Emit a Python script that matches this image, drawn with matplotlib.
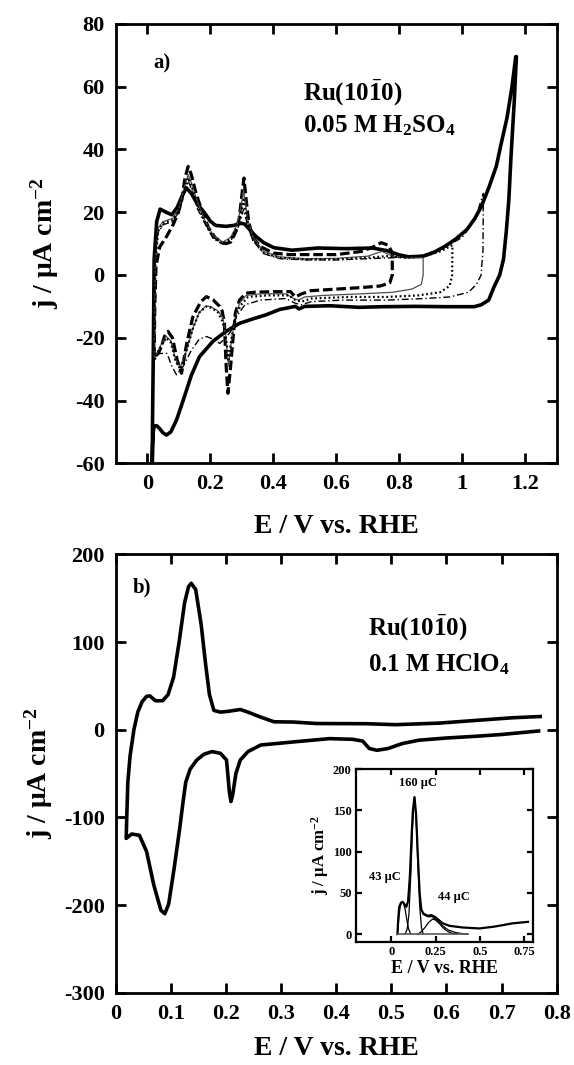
import matplotlib
matplotlib.use('Agg')
import matplotlib.pyplot as plt

# --- panel a) Ru(10-10) in 0.05 M H2SO4, five upper potential limits ---
# thick solid, upper limit 1.17 V
A_E_up = [0.016, 0.017, 0.019, 0.022, 0.030, 0.041, 0.060, 0.078, 0.095, 0.110, 0.124, 0.140, 0.160, 0.182, 0.200,
          0.217, 0.250, 0.275, 0.290, 0.298, 0.310, 0.325, 0.344, 0.370, 0.402, 0.460, 0.541, 0.633, 0.714, 0.760,
          0.800, 0.830, 0.876, 0.910, 0.946, 0.980, 1.015, 1.040, 1.061, 1.085, 1.108, 1.124, 1.142, 1.158, 1.170]
A_j_up = [-60, -45, -28, 5, 17, 21, 20, 19.2, 21.5, 25, 27.8, 26, 22.5, 19.8, 17.2,
          15.8, 15.5, 15.8, 16.3, 16.5, 16.2, 14.5, 12.4, 10.3, 8.7, 7.9, 8.6, 8.4, 8.6, 7.8,
          6.4, 5.8, 6.0, 7.2, 9.2, 11.5, 14.5, 18.0, 21.9, 28.0, 34.6, 42.0, 50.0, 60.0, 69.6]
A_E_down = [1.172, 1.165, 1.155, 1.148, 1.140, 1.131, 1.119, 1.100, 1.084, 1.060, 1.038, 0.950, 0.850, 0.750,
            0.672, 0.580, 0.500, 0.482, 0.470, 0.420, 0.377, 0.335, 0.293, 0.250, 0.210, 0.166, 0.140, 0.114,
            0.093, 0.075, 0.061, 0.050, 0.040, 0.030, 0.022, 0.019, 0.017, 0.016]
A_j_down = [69.6, 55, 38, 24, 14, 5, 0, -4, -8, -9.5, -10.1, -10.1, -10.0, -10.1,
            -10.3, -9.8, -10.0, -10.8, -10.0, -11.0, -12.7, -14.0, -15.4, -18.0, -21.0, -26.0, -32.0, -40.0,
            -46.2, -50.0, -51.0, -50.3, -49.0, -48.0, -48.2, -50.0, -55.0, -60.0]

# thick dashed, upper limit 0.78 V
B_E_up = [0.022, 0.024, 0.028, 0.040, 0.061, 0.082, 0.098, 0.110, 0.120, 0.130, 0.140, 0.155, 0.175, 0.195, 0.215,
          0.235, 0.250, 0.265, 0.280, 0.292, 0.300, 0.307, 0.314, 0.322, 0.335, 0.360, 0.400, 0.450, 0.520, 0.600,
          0.680, 0.714, 0.743, 0.765, 0.778]
B_j_up = [-26, -10, 3, 9, 12.2, 16, 19.7, 24, 31, 34.6, 32, 26, 20, 15, 12,
          10.5, 10, 10.5, 13.5, 18, 25, 30.9, 24, 17, 12, 9, 7, 6.5, 6.5, 6.5,
          7.5, 8.8, 10.3, 9.5, 7.1]
B_E_down = [0.778, 0.778, 0.770, 0.740, 0.680, 0.600, 0.520, 0.490, 0.470, 0.455, 0.400, 0.340, 0.314, 0.293,
            0.280, 0.272, 0.264, 0.256, 0.250, 0.245, 0.238, 0.230, 0.210, 0.188, 0.170, 0.145, 0.125, 0.109,
            0.095, 0.080, 0.066, 0.055, 0.045, 0.035, 0.024, 0.022]
B_j_down = [7.1, 0.0, -2.5, -3.5, -4.0, -4.5, -5.0, -6.0, -7.0, -5.3, -5.3, -5.5, -5.8, -8.0,
            -12.0, -20.7, -30.0, -37.7, -28.0, -15.4, -11.5, -10.0, -8.0, -6.9, -8.5, -13.3, -22.0, -31.3,
            -27.0, -20.0, -18.0, -19.5, -22.8, -25.0, -26.0, -26.0]

# thin solid, upper limit 0.88 V
C_E_up = [0.022, 0.026, 0.035, 0.050, 0.080, 0.100, 0.118, 0.130, 0.142, 0.160, 0.185, 0.210, 0.240, 0.265,
          0.285, 0.298, 0.306, 0.318, 0.335, 0.370, 0.420, 0.500, 0.600, 0.700, 0.745, 0.780, 0.820, 0.876]
C_j_up = [-27, 5, 15, 17, 18, 21, 28, 32, 29, 23, 17, 12.5, 10.5, 12,
          16, 22, 27, 18, 12, 7.5, 5.8, 5.2, 5.3, 6.0, 7.5, 6.0, 5.5, 5.5]
C_E_down = [0.876, 0.876, 0.870, 0.840, 0.780, 0.680, 0.560, 0.500, 0.480, 0.465, 0.440, 0.360, 0.314, 0.293,
            0.278, 0.266, 0.258, 0.250, 0.240, 0.225, 0.200, 0.185, 0.165, 0.145, 0.125, 0.105, 0.090, 0.075,
            0.060, 0.045, 0.030, 0.022]
C_j_down = [5.5, 0.0, -3.0, -4.5, -5.5, -6.0, -6.5, -7.0, -8.0, -7.5, -6.0, -6.0, -6.5, -9.0,
            -14.0, -22.0, -29.0, -20.0, -13.5, -11.5, -10.0, -10.0, -12.0, -17.0, -24.0, -29.5, -27.0, -21.0,
            -19.5, -22.0, -25.0, -27.0]

# dotted, upper limit 0.97 V
D_E_up = [0.022, 0.026, 0.035, 0.050, 0.080, 0.100, 0.118, 0.130, 0.142, 0.160, 0.185, 0.210, 0.240, 0.265,
          0.285, 0.298, 0.306, 0.318, 0.335, 0.370, 0.420, 0.500, 0.600, 0.700, 0.760, 0.820, 0.880, 0.930, 0.969]
D_j_up = [-27, 4, 14, 16.5, 17.5, 20.5, 27, 31, 28, 22, 16.5, 12, 10, 11.5,
          15, 20, 24, 17, 11.5, 7.0, 5.5, 5.0, 5.0, 5.5, 6.0, 5.5, 6.0, 7.5, 9.5]
D_E_down = [0.969, 0.968, 0.960, 0.930, 0.860, 0.760, 0.640, 0.520, 0.490, 0.470, 0.450, 0.380, 0.320, 0.298,
            0.280, 0.268, 0.258, 0.250, 0.240, 0.225, 0.205, 0.188, 0.165, 0.145, 0.125, 0.105, 0.090, 0.075,
            0.060, 0.045, 0.030, 0.022]
D_j_down = [9.5, 0.0, -3.5, -5.5, -6.5, -7.0, -7.0, -7.5, -8.5, -8.0, -6.5, -6.5, -7.0, -9.5,
            -13.0, -20.0, -27.0, -20.0, -15.0, -12.0, -10.5, -10.0, -12.0, -17.0, -24.0, -30.0, -27.5, -21.5,
            -20.0, -22.5, -25.5, -27.0]

# thin dash-dot, upper limit 1.07 V
E_E_up = [0.020, 0.024, 0.032, 0.050, 0.080, 0.100, 0.118, 0.130, 0.142, 0.160, 0.185, 0.210, 0.240, 0.265, 0.285,
          0.298, 0.306, 0.318, 0.335, 0.370, 0.420, 0.500, 0.600, 0.700, 0.780, 0.860, 0.940, 1.000, 1.040, 1.067]
E_j_up = [-28, 3, 13, 16, 17, 20, 26, 30, 27, 21, 16, 11.5, 9.8, 11, 14,
          18, 21, 16, 11, 6.8, 5.2, 4.8, 4.8, 5.2, 5.5, 6.0, 8.5, 12.0, 17.5, 26.0]
E_E_down = [1.067, 1.066, 1.060, 1.045, 1.020, 0.960, 0.880, 0.760, 0.620, 0.520, 0.490, 0.470, 0.440, 0.360, 0.310,
            0.285, 0.265, 0.245, 0.230, 0.210, 0.188, 0.165, 0.140, 0.115, 0.093, 0.078, 0.063, 0.050, 0.035, 0.020]
E_j_down = [26.0, 8.0, 0.0, -3.0, -5.5, -7.0, -7.5, -8.0, -8.0, -8.5, -9.5, -9.0, -7.5, -8.0, -9.5,
            -13.0, -18.0, -20.5, -21.8, -20.5, -19.6, -20.5, -24.0, -29.0, -31.8, -29.0, -25.0, -25.0, -25.0, -28.0]

# --- panel b) Ru(10-10) in 0.1 M HClO4 ---
b_E_up = [0.019, 0.020, 0.022, 0.026, 0.033, 0.040, 0.048, 0.056, 0.062, 0.072, 0.085, 0.095, 0.105, 0.115, 0.125,
          0.132, 0.137, 0.145, 0.155, 0.163, 0.170, 0.178, 0.190, 0.205, 0.226, 0.240, 0.260, 0.287, 0.322, 0.365,
          0.454, 0.508, 0.587, 0.654, 0.720, 0.770]
b_j_up = [-124, -100, -60, -30, 0, 20, 32, 38, 38.5, 33, 33, 40, 60, 100, 145,
          163, 167, 160, 120, 75, 40, 22, 20, 21, 23, 20, 15, 9, 8.7, 7,
          6.8, 5.7, 7.5, 10.6, 13.6, 15]
b_E_down = [0.767, 0.700, 0.654, 0.600, 0.550, 0.520, 0.494, 0.474, 0.460, 0.448, 0.430, 0.388, 0.322, 0.263,
            0.240, 0.226, 0.218, 0.212, 0.209, 0.206, 0.201, 0.190, 0.175, 0.160, 0.147, 0.135, 0.127, 0.122,
            0.116, 0.106, 0.096, 0.089, 0.082, 0.069, 0.056, 0.043, 0.029, 0.019]
b_j_down = [-1.5, -5.5, -7.5, -9.5, -12.0, -15.8, -21.5, -23.5, -21.5, -13.0, -11.0, -10.2, -14.0, -17.5,
            -25.0, -34.6, -50.0, -75.0, -82.0, -70.0, -34.6, -27.0, -25.0, -28.0, -34.6, -45.0, -60.0, -83.0,
            -113.0, -158.0, -199.0, -210.0, -206.0, -177.0, -139.0, -120.5, -119.0, -124.0]

# inset: anodic scan with deconvoluted peaks
ins_E = [0.035, 0.040, 0.045, 0.055, 0.065, 0.075, 0.085, 0.095, 0.105, 0.115, 0.122, 0.131, 0.140, 0.150,
         0.160, 0.169, 0.180, 0.206, 0.225, 0.245, 0.262, 0.290, 0.328, 0.400, 0.497, 0.580, 0.684, 0.770]
ins_j = [0, 20, 33, 38, 39, 36, 33, 40, 70, 120, 150, 166, 145, 95,
         50, 30, 25, 22, 23, 21, 18, 13, 10, 8, 6.8, 9, 13, 14.8]
pk1_E = [0.035, 0.042, 0.050, 0.060, 0.068, 0.078, 0.088, 0.098, 0.110]
pk1_j = [0, 18, 33, 39, 38, 30, 17, 6, 0]
pk2_E = [0.078, 0.090, 0.100, 0.110, 0.120, 0.131, 0.140, 0.150, 0.160, 0.170, 0.180]
pk2_j = [0, 6, 25, 70, 130, 166, 140, 85, 35, 8, 0]
pk3_E = [0.150, 0.170, 0.190, 0.210, 0.232, 0.250, 0.270, 0.290, 0.315, 0.340, 0.370]
pk3_j = [0, 3, 8, 14, 18, 17, 13, 8, 3.5, 1, 0]
fit_E = [0.180, 0.206, 0.230, 0.260, 0.290, 0.320, 0.360, 0.400, 0.430]
fit_j = [24, 21, 21, 16, 10, 5, 2, 0.5, 0]
base_E = [0.030, 0.430]
base_j = [0, 0]

# ticks
a_xticks = [0, 0.2, 0.4, 0.6, 0.8, 1.0, 1.2]
a_xlabels = ['0', '0.2', '0.4', '0.6', '0.8', '1', '1.2']
a_yticks = [-60, -40, -20, 0, 20, 40, 60, 80]
b_xticks = [0, 0.1, 0.2, 0.3, 0.4, 0.5, 0.6, 0.7, 0.8]
b_xlabels = ['0', '0.1', '0.2', '0.3', '0.4', '0.5', '0.6', '0.7', '0.8']
b_yticks = [-300, -200, -100, 0, 100, 200]
i_xticks = [0, 0.25, 0.5, 0.75]
i_xlabels = ['0', '0.25', '0.5', '0.75']
i_yticks = [0, 50, 100, 150, 200]


plt.rcParams['font.family'] = ['Liberation Serif', 'DejaVu Serif']
plt.rcParams['font.weight'] = 'bold'
plt.rcParams['axes.unicode_minus'] = False
plt.rcParams['mathtext.fontset'] = 'custom'
plt.rcParams['mathtext.rm'] = 'Liberation Serif:bold'
plt.rcParams['mathtext.it'] = 'Liberation Serif:bold'
plt.rcParams['mathtext.bf'] = 'Liberation Serif:bold'
plt.rcParams['mathtext.default'] = 'rm'

XLAB = 'E / V vs. RHE'
YLAB = 'j / \u03bcA cm$^{-2}$'


def style_axes(ax, size, width, length, pad):
    for s in ax.spines.values():
        s.set_linewidth(width)
    ax.tick_params(direction='in', top=True, right=True, width=width, length=length,
                   labelsize=size, pad=pad)


fig = plt.figure(figsize=(5.74, 10.65), dpi=100)

# panel a
ax1 = fig.add_axes([0.2016, 0.565, 0.7683, 0.4125])
ax1.plot(A_E_up + A_E_down, A_j_up + A_j_down, c='black', lw=2.6, solid_joinstyle='round')
ax1.plot(B_E_up + B_E_down, B_j_up + B_j_down, c='black', lw=2.3, ls=(0, (3.0, 1.2)))
ax1.plot(C_E_up + C_E_down, C_j_up + C_j_down, c='0.3', lw=0.9)
ax1.plot(D_E_up + D_E_down, D_j_up + D_j_down, c='black', lw=1.6, ls=(0, (0.8, 1.2)))
ax1.plot(E_E_up + E_E_down, E_j_up + E_j_down, c='black', lw=1.0, ls=(0, (5, 2, 1, 2)))
ax1.set_xlim(-0.1, 1.3)
ax1.set_ylim(-60, 80)
ax1.set_xticks(a_xticks)
ax1.set_xticklabels(a_xlabels)
ax1.set_yticks(a_yticks)
style_axes(ax1, 16, 2.0, 7, 8)
ax1.set_xlabel(XLAB, fontsize=20, fontweight='bold', labelpad=14)
ax1.set_ylabel(YLAB, fontsize=20, fontweight='bold', labelpad=10)
ax1.text(0.018, 67.5, 'a)', fontsize=15, fontweight='bold', va='center')
ax1.text(0.495, 58, 'Ru(10$\\bar{1}$0)', fontsize=18, fontweight='bold', va='center')
ax1.text(0.495, 47.5, '0.05 M H$_2$SO$_4$', fontsize=18, fontweight='bold', va='center')

# panel b
ax2 = fig.add_axes([0.2016, 0.0679, 0.7683, 0.4116])
ax2.plot(b_E_down + b_E_up, b_j_down + b_j_up, c='black', lw=2.6, solid_joinstyle='round')
ax2.set_xlim(0, 0.8)
ax2.set_ylim(-300, 200)
ax2.set_xticks(b_xticks)
ax2.set_xticklabels(b_xlabels)
ax2.set_yticks(b_yticks)
style_axes(ax2, 16, 2.0, 7, 8)
ax2.set_xlabel(XLAB, fontsize=20, fontweight='bold', labelpad=9)
ax2.set_ylabel(YLAB, fontsize=20, fontweight='bold', labelpad=6)
ax2.text(0.03, 162, 'b)', fontsize=15, fontweight='bold', va='center')
ax2.text(0.458, 116, 'Ru(10$\\bar{1}$0)', fontsize=18, fontweight='bold', va='center')
ax2.text(0.458, 75, '0.1 M HClO$_4$', fontsize=18, fontweight='bold', va='center')

# inset
ax3 = fig.add_axes([0.6197, 0.1152, 0.3094, 0.1627])
ax3.plot(ins_E, ins_j, c='black', lw=1.6)
ax3.plot(pk1_E, pk1_j, c='black', lw=0.9)
ax3.plot(pk2_E, pk2_j, c='black', lw=0.9)
ax3.plot(pk3_E, pk3_j, c='black', lw=0.9)
ax3.plot(fit_E, fit_j, c='black', lw=0.9)
ax3.plot(base_E, base_j, c='0.35', lw=1.2)
ax3.set_xlim(-0.2, 0.8)
ax3.set_ylim(-10, 200)
ax3.set_xticks(i_xticks)
ax3.set_xticklabels(i_xlabels)
ax3.set_yticks(i_yticks)
style_axes(ax3, 9, 1.6, 4, 3)
ax3.set_xlabel(XLAB, fontsize=13, fontweight='bold', labelpad=1)
ax3.set_ylabel(YLAB, fontsize=12, fontweight='bold', labelpad=1)
ax3.text(0.148, 183, '160 \u03bcC', fontsize=9, fontweight='bold', ha='center', va='center')
ax3.text(-0.038, 69, '43 \u03bcC', fontsize=9, fontweight='bold', ha='center', va='center')
ax3.text(0.35, 45, '44 \u03bcC', fontsize=9, fontweight='bold', ha='center', va='center')

fig.savefig('out.png', dpi=100)
